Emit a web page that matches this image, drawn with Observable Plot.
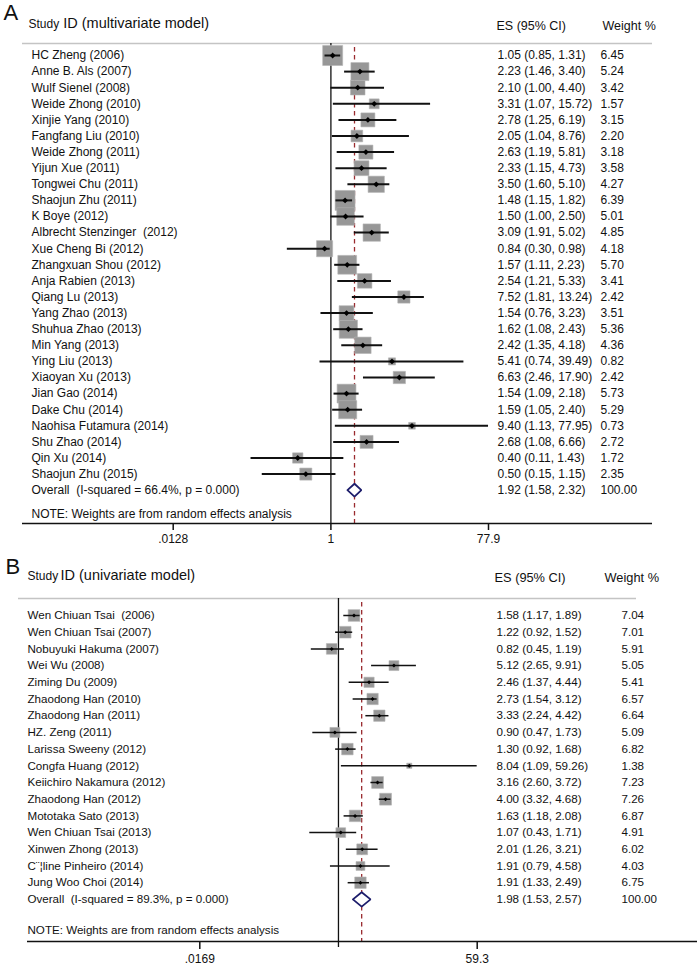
<!DOCTYPE html>
<html><head><meta charset="utf-8">
<script src="https://cdn.jsdelivr.net/npm/d3@7"></script>
<script src="https://cdn.jsdelivr.net/npm/@observablehq/plot@0.6"></script>
<style>
html,body{margin:0;padding:0;background:#fff;}
#chart svg{display:block;}
svg text{white-space:pre;}
</style></head><body><div id="chart"></div>
<script>
// ---------- Panel A data (multivariate model) ----------
const studiesA = [
  "HC Zheng (2006)", "Anne B. Als (2007)", "Wulf Sienel (2008)", "Weide Zhong (2010)",
  "Xinjie Yang (2010)", "Fangfang Liu (2010)", "Weide Zhong (2011)", "Yijun Xue (2011)",
  "Tongwei Chu (2011)", "Shaojun Zhu (2011)", "K Boye (2012)", "Albrecht Stenzinger  (2012)",
  "Xue Cheng Bi (2012)", "Zhangxuan Shou (2012)", "Anja Rabien (2013)", "Qiang Lu (2013)",
  "Yang Zhao (2013)", "Shuhua Zhao (2013)", "Min Yang (2013)", "Ying Liu (2013)",
  "Xiaoyan Xu (2013)", "Jian Gao (2014)", "Dake Chu (2014)", "Naohisa Futamura (2014)",
  "Shu Zhao (2014)", "Qin Xu (2014)", "Shaojun Zhu (2015)"
];
const esA = [1.05, 2.23, 2.10, 3.31, 2.78, 2.05, 2.63, 2.33, 3.50, 1.48, 1.50, 3.09, 0.84, 1.57, 2.54, 7.52, 1.54, 1.62, 2.42, 5.41, 6.63, 1.54, 1.59, 9.40, 2.68, 0.40, 0.50];
const loA = [0.85, 1.46, 1.00, 1.07, 1.25, 1.04, 1.19, 1.15, 1.60, 1.15, 1.00, 1.91, 0.30, 1.11, 1.21, 1.81, 0.76, 1.08, 1.35, 0.74, 2.46, 1.09, 1.05, 1.13, 1.08, 0.11, 0.15];
const hiA = [1.31, 3.40, 4.40, 15.72, 6.19, 8.76, 5.81, 4.73, 5.10, 1.82, 2.50, 5.02, 0.98, 2.23, 5.33, 13.24, 3.23, 2.43, 4.18, 39.49, 17.90, 2.18, 2.40, 77.95, 6.66, 1.43, 1.15];
const wA  = [6.45, 5.24, 3.42, 1.57, 3.15, 2.20, 3.18, 3.58, 4.27, 6.39, 5.01, 4.85, 4.18, 5.70, 3.41, 2.42, 3.51, 5.36, 4.36, 0.82, 2.42, 5.73, 5.29, 0.73, 2.72, 1.72, 2.35];
const overallLabelA = "Overall  (I-squared = 66.4%, p = 0.000)";
const overallA = [1.92, 1.58, 2.32, 100.00];
const ticksA = [0.0128, 1, 77.9];
const tickLabelsA = [".0128", "1", "77.9"];

// ---------- Panel B data (univariate model) ----------
const studiesB = [
  "Wen Chiuan Tsai  (2006)", "Wen Chiuan Tsai (2007)", "Nobuyuki Hakuma (2007)", "Wei Wu (2008)",
  "Ziming Du (2009)", "Zhaodong Han (2010)", "Zhaodong Han (2011)", "HZ. Zeng (2011)",
  "Larissa Sweeny (2012)", "Congfa Huang (2012)", "Keiichiro Nakamura (2012)", "Zhaodong Han (2012)",
  "Mototaka Sato (2013)", "Wen Chiuan Tsai (2013)", "Xinwen Zhong (2013)", "C¨¦line Pinheiro (2014)",
  "Jung Woo Choi (2014)"
];
const esB = [1.58, 1.22, 0.82, 5.12, 2.46, 2.73, 3.33, 0.90, 1.30, 8.04, 3.16, 4.00, 1.63, 1.07, 2.01, 1.91, 1.91];
const loB = [1.17, 0.92, 0.45, 2.65, 1.37, 1.54, 2.24, 0.47, 0.92, 1.09, 2.60, 3.32, 1.18, 0.43, 1.26, 0.79, 1.33];
const hiB = [1.89, 1.52, 1.19, 9.91, 4.44, 3.12, 4.42, 1.73, 1.68, 59.26, 3.72, 4.68, 2.08, 1.71, 3.21, 4.58, 2.49];
const wB  = [7.04, 7.01, 5.91, 5.05, 5.41, 6.57, 6.64, 5.09, 6.82, 1.38, 7.23, 7.26, 6.87, 4.91, 6.02, 4.03, 6.75];
const overallLabelB = "Overall  (I-squared = 89.3%, p = 0.000)";
const overallB = [1.98, 1.53, 2.57, 100.00];
const ticksB = [0.0169, 59.3];
const tickLabelsB = [".0169", "59.3"];

const FONT = "'Liberation Sans', Arial, Helvetica, sans-serif";
const INK = "#111";

function panel(o) {
  const rows = o.names.map((name, i) => ({name, i, es: o.es[i], lo: o.lo[i], hi: o.hi[i], w: o.w[i]}));
  const n = rows.length;
  const ov = {name: o.overallLabel, i: n, es: o.overall[0], lo: o.overall[1], hi: o.overall[2], w: o.overall[3]};
  const all = rows.concat([ov]);
  const row = p => (p - o.row0) / o.step;          // pixel -> row position
  const L = o.margin[3];
  const fmt = d => `${d.es.toFixed(2)} (${d.lo.toFixed(2)}, ${d.hi.toFixed(2)})`;
  const diamond = [[ov.lo, n], [ov.es, n - o.dh], [ov.hi, n], [ov.es, n + o.dh], [ov.lo, n]];
  const tickData = o.ticks.map((t, i) => ({t, label: o.tickLabels[i]}));
  const txt = (s, x, y, fs, extra = {}) =>
    Plot.text([s], {text: d => d, y: row(y), frameAnchor: "left", dx: x - L, textAnchor: "start", fontSize: fs, fill: INK, ...extra});
  return Plot.plot({
    width: 700, height: o.height,
    marginTop: o.margin[0], marginRight: o.margin[1], marginBottom: o.margin[2], marginLeft: o.margin[3],
    style: {fontFamily: FONT, fontSize: "12px", color: INK, background: "white"},
    x: {type: "log", domain: o.xdomain, range: o.xrange, axis: null},
    y: {type: "linear", domain: [0, 1], range: [o.row0, o.row0 + o.step], axis: null},
    r: {type: "sqrt", domain: [0, 1], range: [0, o.rk]},
    marks: [
      Plot.ruleY([row(o.topLine)], {stroke: "#c4c4c4", strokeWidth: 1.5, insetRight: o.topInsetRight}),
      Plot.ruleX([1], {stroke: INK, strokeWidth: 1.3, insetBottom: o.oneInsetBottom}),
      Plot.ruleX([ov.es], {stroke: "#9a2a2e", strokeWidth: 1.3, strokeDasharray: "4.5,3.5", insetTop: 4}),
      Plot.dot(rows, {x: "es", y: "i", r: "w", symbol: "square", fill: "#979797", stroke: "#b4b4b4", strokeWidth: 0.6}),
      Plot.ruleY(rows, {y: "i", x1: "lo", x2: "hi", stroke: INK, strokeWidth: o.ciWidth}),
      Plot.dot(rows, {x: "es", y: "i", r: o.markR, symbol: "diamond2", fill: "#000"}),
      Plot.line(diamond, {x: d => d[0], y: d => d[1], stroke: "#1d1d6b", strokeWidth: 1.8, fill: "white", strokeLinejoin: "miter"}),
      Plot.text(all, {y: "i", text: "name", frameAnchor: "left", dx: o.nameX - L, textAnchor: "start", fontSize: o.fs, fill: INK}),
      Plot.text(all, {y: "i", text: fmt, frameAnchor: "left", dx: o.esX - L, textAnchor: "start", fontSize: o.fs, fill: INK}),
      Plot.text(all, {y: "i", text: d => d.w.toFixed(2), frameAnchor: "left", dx: o.wX - L, textAnchor: "start", fontSize: o.fs, fill: INK}),
      txt(o.letter, o.letterX, o.letterY, 22),
      txt("Study", o.studyX, o.headY + 1, 12),
      txt(o.headRest, o.restX, o.headY, 14.5),
      txt("ES (95% CI)", o.esHeadX, o.colHeadY, o.colHeadFs),
      txt("Weight %", o.wHeadX, o.colHeadY, o.colHeadFs),
      txt("NOTE: Weights are from random effects analysis", o.nameX, o.noteY, o.fs),
      Plot.ruleY([row(o.axisY)], {stroke: INK, strokeWidth: 1.6, insetLeft: o.axisInsetLeft}),
      Plot.ruleX(tickData, {x: "t", y1: row(o.axisY), y2: row(o.axisY + o.tickSize), stroke: INK, strokeWidth: 1.5}),
      Plot.text(tickData, {x: "t", y: row(o.tickLabelY), text: "label", fontSize: 12, fill: INK})
    ]
  });
}

const chart = document.getElementById("chart");
chart.appendChild(panel({
  names: studiesA, es: esA, lo: loA, hi: hiA, w: wA, overallLabel: overallLabelA, overall: overallA,
  ticks: ticksA, tickLabels: tickLabelsA,
  height: 550, margin: [43, 48, 27, 22], row0: 55, step: 16.1,
  xdomain: [0.0128, 77.9], xrange: [172.7, 488], rk: 4.44, markR: 2.6, ciWidth: 2, dh: 0.4,
  nameX: 31, esX: 497, wX: 600, fs: 12,
  topLine: 43, topInsetRight: 0, axisY: 523, axisInsetLeft: 0, oneInsetBottom: 0,
  letter: "A", letterX: 3, letterY: 12.5,
  studyX: 28, restX: 62.7, headRest: "ID (multivariate model)", headY: 23,
  esHeadX: 496, wHeadX: 602, colHeadY: 25, colHeadFs: 12.5,
  noteY: 514, tickSize: 7, tickLabelY: 539
}));
chart.appendChild(panel({
  names: studiesB, es: esB, lo: loB, hi: hiB, w: wB, overallLabel: overallLabelB, overall: overallB,
  ticks: ticksB, tickLabels: tickLabelsB,
  height: 418, margin: [48, 3, 27, 18], row0: 65, step: 16.7,
  xdomain: [0.0169, 59.3], xrange: [199.3, 476.7], rk: 2.48, markR: 1.8, ciWidth: 1.5, dh: 0.43,
  nameX: 27, esX: 496, wX: 621, fs: 11.6,
  topLine: 48, topInsetRight: 61, axisY: 391, axisInsetLeft: 9, oneInsetBottom: -6,
  letter: "B", letterX: 5, letterY: 16.5,
  studyX: 27, restX: 60, headRest: "ID (univariate model)", headY: 25,
  esHeadX: 494, wHeadX: 604, colHeadY: 27, colHeadFs: 12.8,
  noteY: 380, tickSize: 8, tickLabelY: 409
}));
</script></body></html>
